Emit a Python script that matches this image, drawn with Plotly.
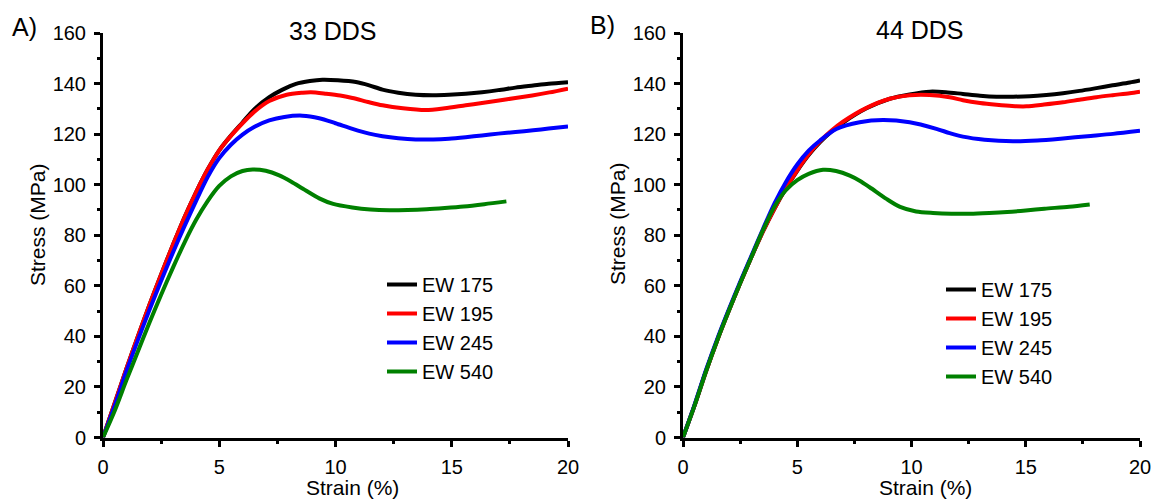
import plotly.graph_objects as go

# ---------------------------------------------------------------------------
# Tensile stress-strain curves for two DDS-cured series (strain %, stress MPa)
# ---------------------------------------------------------------------------
SERIES = ["EW 175", "EW 195", "EW 245", "EW 540"]
COLORS = ["#000000", "#ff0000", "#0000ff", "#008000"]
PANEL_TITLES = ["33 DDS", "44 DDS"]
PANEL_TAGS = ["A)", "B)"]

# ---- 33 DDS ----
dds33_ew175_strain = [0, 0.5, 1.0, 1.5, 2.0, 2.5, 3.0, 3.5, 4.0, 4.5, 5.0, 5.5, 6.0, 6.5,
                      7.15, 7.7, 8.3, 8.9, 9.44, 10.1, 10.88, 11.45, 12.02, 12.7, 13.45,
                      14.2, 14.88, 15.6, 16.3, 17.0, 17.74, 18.5, 19.17, 20.0]
dds33_ew175_stress = [0, 13.5, 27, 40, 52.5, 64.5, 76, 87, 97, 106, 113.6, 119.4, 124.6, 129.8,
                      134.6, 137.5, 139.9, 141, 141.5, 141.3, 140.6, 139.3, 137.6, 136.4, 135.6,
                      135.4, 135.6, 136, 136.6, 137.4, 138.4, 139.2, 139.9, 140.5]

dds33_ew195_strain = [0, 0.5, 1.0, 1.5, 2.0, 2.5, 3.0, 3.5, 4.0, 4.5, 5.0, 5.5, 6.0, 6.5,
                      7.15, 7.9, 8.58, 8.94, 9.6, 10.2, 10.73, 11.45, 12.02, 12.9, 13.88,
                      14.7, 15.6, 16.3, 17.03, 17.74, 18.46, 19.2, 20.0]
dds33_ew195_stress = [0, 13.5, 27, 40, 52.5, 64.5, 76, 87, 97, 106, 113.6, 119.3, 124.3, 128.8,
                      133.1, 135.6, 136.4, 136.6, 136, 135.3, 134.3, 132.6, 131.4, 130.2, 129.5,
                      130.2, 131.4, 132.3, 133.3, 134.3, 135.3, 136.5, 138]

dds33_ew245_strain = [0, 0.5, 1.0, 1.5, 2.0, 2.5, 3.0, 3.5, 4.0, 4.5, 5.0, 5.5, 6.0, 6.5,
                      7.15, 7.8, 8.58, 9.3, 10.0, 10.73, 11.45, 12.02, 12.7, 13.45, 14.2,
                      14.88, 15.6, 16.3, 17.0, 17.74, 18.5, 19.17, 20.0]
dds33_ew245_stress = [0, 12.5, 26, 38.5, 50.5, 62, 73, 83.5, 93.5, 103, 110.5, 115.8, 119.8, 122.8,
                      125.4, 126.8, 127.3, 126.3, 124.3, 122.1, 120.2, 119.2, 118.4, 117.9, 117.9,
                      118.2, 118.8, 119.5, 120.2, 120.8, 121.5, 122.2, 123]

dds33_ew540_strain = [0, 0.5, 1.0, 1.5, 2.0, 2.5, 3.0, 3.5, 4.0, 4.5, 5.0, 5.5, 6.0,
                      6.44, 7.0, 7.58, 8.1, 8.6, 9.3, 9.9, 10.72, 11.5, 12.32, 13.1, 13.92,
                      14.7, 15.51, 16.4, 17.35]
dds33_ew540_stress = [0, 10.5, 22.5, 34, 45.5, 56.5, 67, 77, 86, 93.5, 99.5, 103.3, 105.4,
                      106, 105.5, 103.7, 101.2, 98.4, 94.6, 92.4, 91, 90.2, 89.9, 90, 90.3,
                      90.8, 91.4, 92.3, 93.4]

# ---- 44 DDS ----
dds44_ew175_strain = [0, 0.5, 1.0, 1.5, 2.0, 2.5, 3.0, 3.5, 4.0, 4.5, 5.0, 5.5, 6.0, 6.5,
                      7.0, 8.03, 9.05, 9.92, 10.8, 11.5, 12.25, 13.0, 13.72, 14.45, 15.17,
                      15.9, 16.63, 17.35, 18.09, 18.8, 19.55, 20.0]
dds44_ew175_stress = [0, 12.5, 26, 38.5, 50, 61, 71.5, 81.5, 90.5, 98.5, 105.5, 111.7, 116.8, 121,
                      124.5, 130.2, 134, 135.7, 136.8, 136.6, 135.9, 135.2, 134.8, 134.8, 135,
                      135.5, 136.2, 137.1, 138.2, 139.3, 140.4, 141.2]

dds44_ew195_strain = [0, 0.5, 1.0, 1.5, 2.0, 2.5, 3.0, 3.5, 4.0, 4.5, 5.0, 5.5, 6.0, 6.5,
                      7.0, 8.03, 9.05, 9.92, 10.8, 11.67, 12.25, 13.0, 13.72, 14.4, 15.03,
                      15.8, 16.63, 17.35, 18.09, 18.8, 19.55, 20.0]
dds44_ew195_stress = [0, 12.5, 26, 38.5, 50, 61, 71.5, 81.5, 90.5, 98.6, 105.7, 112, 117.2, 121.4,
                      124.9, 130.4, 134, 135.4, 135.5, 134.6, 133.4, 132.3, 131.6, 131.1, 131,
                      131.7, 132.6, 133.6, 134.6, 135.4, 136.2, 136.8]

dds44_ew245_strain = [0, 0.5, 1.0, 1.5, 2.0, 2.5, 3.0, 3.5, 4.0, 4.5, 5.0, 5.5, 6.0, 6.71,
                      7.73, 8.75, 9.92, 11.09, 11.67, 12.25, 13.2, 14.44, 15.5, 16.63, 17.7,
                      18.82, 20.0]
dds44_ew245_stress = [0, 12.8, 26.5, 39, 50.5, 61.5, 72, 82.5, 92.5, 101, 108, 113.5, 117.5, 122,
                      124.7, 125.6, 124.7, 122.1, 120.4, 119, 117.8, 117.2, 117.5, 118.3, 119.2,
                      120.1, 121.3]

dds44_ew540_strain = [0, 0.5, 1.0, 1.5, 2.0, 2.5, 3.0, 3.5, 4.0, 4.5, 5.0, 5.5, 6.13, 6.7,
                      7.3, 7.75, 8.17, 8.9, 9.5, 10.2, 10.94, 11.75, 12.56, 13.4, 14.19,
                      15.0, 15.82, 16.9, 17.8]
dds44_ew540_stress = [0, 12.5, 26, 38.5, 50, 61, 71.5, 82, 91.3, 97.8, 101.8, 104.3, 105.9, 105.4,
                      103.6, 101.5, 99, 94.4, 91.2, 89.4, 88.8, 88.5, 88.5, 88.8, 89.2,
                      89.8, 90.5, 91.3, 92.2]

PANELS = [
    [(dds33_ew175_strain, dds33_ew175_stress), (dds33_ew195_strain, dds33_ew195_stress),
     (dds33_ew245_strain, dds33_ew245_stress), (dds33_ew540_strain, dds33_ew540_stress)],
    [(dds44_ew175_strain, dds44_ew175_stress), (dds44_ew195_strain, dds44_ew195_stress),
     (dds44_ew245_strain, dds44_ew245_stress), (dds44_ew540_strain, dds44_ew540_stress)],
]

FONT = "Liberation Sans, Arial, sans-serif"
W, H = 1160, 501

fig = go.Figure()
for p, curves in enumerate(PANELS):
    suffix = "" if p == 0 else "2"
    for name, color, (sx, sy) in zip(SERIES, COLORS, curves):
        fig.add_trace(go.Scatter(
            x=sx, y=sy, mode="lines", name=name,
            line=dict(color=color, width=4, shape="spline", smoothing=0.8),
            xaxis="x" + suffix, yaxis="y" + suffix,
            legend="legend" + suffix, hoverinfo="skip",
        ))


def px_x(v):
    return v / W


def px_y(v):
    return 1 - v / H


def x_axis(domain, anchor):
    return dict(
        domain=domain, anchor=anchor, range=[0, 20], tick0=0, dtick=5,
        ticks="outside", ticklen=6, tickwidth=3, tickcolor="black",
        minor=dict(dtick=2.5, ticks="outside", ticklen=3, tickwidth=2.5, tickcolor="black"),
        showline=True, linewidth=3, linecolor="black", mirror=False,
        showgrid=False, zeroline=False, automargin=False,
        tickfont=dict(family=FONT, size=20, color="black"), ticklabelstandoff=3,
    )


def y_axis(domain, anchor):
    return dict(
        domain=domain, anchor=anchor, range=[0, 160], tick0=0, dtick=20,
        ticks="outside", ticklen=6, tickwidth=3, tickcolor="black",
        minor=dict(dtick=10, ticks="outside", ticklen=3, tickwidth=2.5, tickcolor="black"),
        showline=True, linewidth=3, linecolor="black", mirror=False,
        showgrid=False, zeroline=False, automargin=False,
        tickfont=dict(family=FONT, size=20, color="black"), ticklabelstandoff=4,
    )


y_dom = [px_y(437.5), px_y(33)]
legend_style = dict(
    bgcolor="rgba(0,0,0,0)", borderwidth=0, xanchor="left", yanchor="middle",
    font=dict(family=FONT, size=20, color="black"), tracegroupgap=0,
)

fig.update_layout(
    width=W, height=H, margin=dict(l=0, r=0, t=0, b=0),
    paper_bgcolor="white", plot_bgcolor="white",
    font=dict(family=FONT, color="black"),
    xaxis=x_axis([px_x(103), px_x(568)], "y"),
    yaxis=y_axis(y_dom, "x"),
    xaxis2=x_axis([px_x(683), px_x(1140)], "y2"),
    yaxis2=y_axis(y_dom, "x2"),
    legend=dict(x=px_x(382), y=px_y(328), **legend_style),
    legend2=dict(x=px_x(941), y=px_y(333), **legend_style),
    showlegend=True,
)

annots = [
    (PANEL_TITLES[0], 333, 31, 25, 0, "middle"),
    (PANEL_TITLES[1], 920, 30, 25, 0, "middle"),
    (PANEL_TAGS[0], 24, 27, 25, 0, "middle"),
    (PANEL_TAGS[1], 602, 25, 25, 0, "middle"),
    ("Strain (%)", 352, 501, 21, 0, "bottom"),
    ("Strain (%)", 925, 501, 21, 0, "bottom"),
    ("Stress (MPa)", 37, 225, 21, -90, "middle"),
    ("Stress (MPa)", 617, 224, 21, -90, "middle"),
]
for text, ax_px, ay_px, size, angle, yanc in annots:
    fig.add_annotation(
        text=text, x=px_x(ax_px), y=px_y(ay_px), xref="paper", yref="paper",
        xanchor="center", yanchor=yanc, showarrow=False, textangle=angle,
        font=dict(family=FONT, size=size, color="black"),
    )

fig.write_html("out.html")
